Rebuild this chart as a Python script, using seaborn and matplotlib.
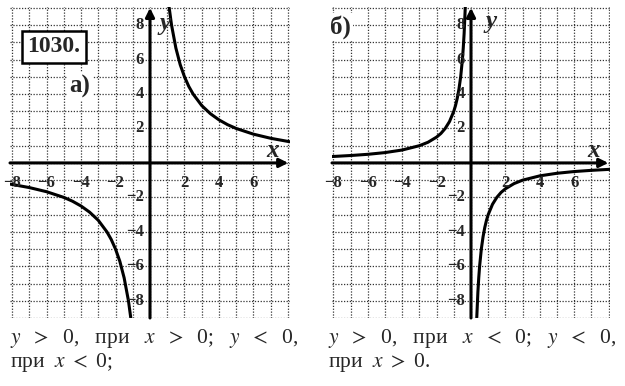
import numpy as np
import pandas as pd
import seaborn as sns
import matplotlib.pyplot as plt

sns.set_style("white")
plt.rcParams['font.family'] = ['Liberation Serif', 'DejaVu Serif']
plt.rcParams['mathtext.fontset'] = 'stix'

# Panel a) y = 10/x  (values read from the picture)
xa_pos = [1.1, 1.25, 1.5, 1.75, 2, 2.25, 2.5, 3, 3.5, 4, 4.5, 5, 6, 7, 8.1]
ya_pos = [9.1, 8.0, 6.67, 5.71, 5.0, 4.44, 4.0, 3.33, 2.86, 2.5, 2.22, 2.0, 1.67, 1.43, 1.23]
xa_neg = [-8.1, -7, -6, -5, -4.5, -4, -3.5, -3, -2.5, -2.25, -2, -1.75, -1.5, -1.25, -1.1]
ya_neg = [-1.23, -1.43, -1.67, -2.0, -2.22, -2.5, -2.86, -3.33, -4.0, -4.44, -5.0, -5.71, -6.67, -8.0, -9.1]

# Panel b) y = -3/x
xb_neg = [-8.1, -7, -6, -5, -4, -3, -2.5, -2, -1.75, -1.5, -1.25, -1, -0.9, -0.8, -0.7, -0.6, -0.5, -0.45, -0.4, -0.33]
yb_neg = [0.37, 0.43, 0.5, 0.6, 0.75, 1.0, 1.2, 1.5, 1.71, 2.0, 2.4, 3.0, 3.33, 3.75, 4.29, 5.0, 6.0, 6.67, 7.5, 9.1]
xb_pos = [0.33, 0.4, 0.45, 0.5, 0.6, 0.7, 0.8, 0.9, 1, 1.25, 1.5, 1.75, 2, 2.5, 3, 4, 5, 6, 7, 8.1]
yb_pos = [-9.1, -7.5, -6.67, -6.0, -5.0, -4.29, -3.75, -3.33, -3.0, -2.4, -2.0, -1.71, -1.5, -1.2, -1.0, -0.75, -0.6, -0.5, -0.43, -0.37]

tick_vals = [-8, -6, -4, -2, 2, 4, 6]
ytick_vals = [-8, -6, -4, -2, 2, 4, 6, 8]

fig = plt.figure(figsize=(6.25, 3.86), dpi=100)
W, H = 625, 386

def make_ax(x0, x1, y0, y1):
    return fig.add_axes([x0 / W, 1 - y1 / H, (x1 - x0) / W, (y1 - y0) / H])

axA = make_ax(10, 290, 7, 318)
axB = make_ax(332, 610, 7, 318)

lab_fs = 12

def setup(ax, xlim, ylim):
    ax.set_xlim(*xlim)
    ax.set_ylim(*ylim)
    ax.set_xticks(range(-8, 9))
    ax.set_yticks(range(-9, 10))
    ax.tick_params(length=0, labelbottom=False, labelleft=False)
    ax.grid(True, ls=(0, (1, 1.3)), color='#333333', lw=0.9)
    for s in ax.spines.values():
        s.set_visible(False)
    ax.annotate('', xy=(xlim[1] - 0.1, 0), xytext=(xlim[0], 0),
                arrowprops=dict(arrowstyle='-|>', lw=2.2, color='k', mutation_scale=13,
                                shrinkA=0, shrinkB=0))
    ax.annotate('', xy=(0, ylim[1] - 0.05), xytext=(0, ylim[0]),
                arrowprops=dict(arrowstyle='-|>', lw=2.2, color='k', mutation_scale=13,
                                shrinkA=0, shrinkB=0))
    for v in tick_vals:
        lab = str(v).replace('-', '\u2212')
        ax.text(v, -1.15, lab, ha='center', va='center', fontsize=lab_fs,
                fontweight='bold', clip_on=False)
    for v in ytick_vals:
        lab = str(v).replace('-', '\u2212')
        ax.text(-0.35, v, lab, ha='right', va='center', fontsize=lab_fs,
                fontweight='bold', clip_on=False)
    ax.text(7.1, 0.7, 'x', ha='center', va='center', fontsize=18,
            style='italic', fontweight='bold')

setup(axA, (-8.12, 8.12), (-9.0, 9.05))
setup(axB, (-8.08, 8.08), (-9.0, 9.05))
axA.text(0.85, 8.1, 'y', ha='center', va='center', fontsize=18, style='italic', fontweight='bold')
axB.text(1.15, 8.2, 'y', ha='center', va='center', fontsize=18, style='italic', fontweight='bold')

lw = 2.2
sns.lineplot(x=xa_pos, y=ya_pos, ax=axA, color='k', lw=lw, sort=False, estimator=None)
sns.lineplot(x=xa_neg, y=ya_neg, ax=axA, color='k', lw=lw, sort=False, estimator=None)
sns.lineplot(x=xb_neg, y=yb_neg, ax=axB, color='k', lw=lw, sort=False, estimator=None)
sns.lineplot(x=xb_pos, y=yb_pos, ax=axB, color='k', lw=lw, sort=False, estimator=None)
for ax in (axA, axB):
    ax.set_xlabel('')
    ax.set_ylabel('')

fig.text(54 / W, 1 - 47 / H, '1030.', ha='center', va='center', fontsize=17,
         fontweight='bold',
         bbox=dict(boxstyle='square,pad=0.22', fc='white', ec='k', lw=1.8))
fig.text(80 / W, 1 - 86 / H, 'а)', ha='center', va='center', fontsize=18, fontweight='bold',
         bbox=dict(boxstyle='square,pad=0.1', fc='white', ec='none'))
fig.text(340 / W, 1 - 27 / H, 'б)', ha='center', va='center', fontsize=18, fontweight='bold',
         bbox=dict(boxstyle='square,pad=0.1', fc='white', ec='none'))

fs = 15.5
fig.text(10 / W, 1 - 338 / H, r'$y$  $>$  0,   при   $x$  $>$  0;   $y$  $<$  0,', ha='left', va='center', fontsize=fs)
fig.text(10 / W, 1 - 363 / H, r'при  $x$ $<$ 0;', ha='left', va='center', fontsize=fs)
fig.text(328 / W, 1 - 338 / H, r'$y$  $>$  0,   при   $x$  $<$  0;   $y$  $<$  0,', ha='left', va='center', fontsize=fs)
fig.text(328 / W, 1 - 363 / H, r'при  $x$ $>$ 0.', ha='left', va='center', fontsize=fs)

fig.savefig('out.png', dpi=100)
